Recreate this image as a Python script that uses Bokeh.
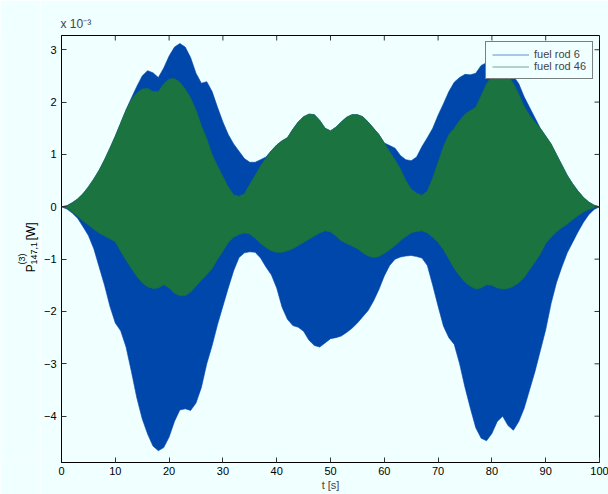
import math
from bokeh.plotting import figure
from bokeh.layouts import row
from bokeh.models import Range1d, FixedTicker, Legend, LegendItem
from bokeh.core.properties import value
from bokeh.embed import file_html
from bokeh.resources import INLINE

# ---- data (power envelopes, units of 10^-3 W) ----
t_s = list(range(0, 101))

rod6_upper = [0, 0.02, 0.08, 0.15, 0.25, 0.38, 0.53, 0.7, 0.9, 1.12, 1.35,
              1.6, 1.85, 2.08, 2.3, 2.5, 2.6, 2.56, 2.47, 2.65, 2.88,
              3.05, 3.12, 3.05, 2.85, 2.55, 2.36, 2.39, 2.2, 1.9, 1.62,
              1.38, 1.2, 1.06, 0.92, 0.85, 0.85, 0.9, 0.95, 1.07, 1.18,
              1.26, 1.32, 1.48, 1.62, 1.72, 1.77, 1.76, 1.65, 1.5, 1.45,
              1.52, 1.62, 1.71, 1.76, 1.76, 1.72, 1.62, 1.5, 1.38, 1.22,
              1.17, 1.12, 0.98, 0.9, 0.88, 0.95, 1.15, 1.32, 1.5, 1.75,
              1.97, 2.2, 2.38, 2.47, 2.53, 2.52, 2.55, 2.7, 2.75, 2.78,
              2.72, 2.62, 2.55, 2.5, 2.35, 2.1, 1.9, 1.7, 1.5, 1.35,
              1.2, 1.0, 0.8, 0.6, 0.44, 0.3, 0.18, 0.09, 0.03, 0]

rod6_lower = [0, -0.04, -0.12, -0.22, -0.38, -0.55, -0.8, -1.15, -1.5, -1.9, -2.22,
              -2.37, -2.68, -3.15, -3.65, -4.05, -4.34, -4.57, -4.66, -4.6, -4.4,
              -4.1, -3.88, -3.86, -3.89, -3.75, -3.45, -3.0, -2.65, -2.25, -1.9,
              -1.55, -1.22, -0.97, -0.88, -0.86, -0.87, -0.98, -1.15, -1.3, -1.55,
              -1.92, -2.15, -2.27, -2.3, -2.38, -2.55, -2.65, -2.68, -2.6, -2.52,
              -2.5, -2.47, -2.4, -2.32, -2.22, -2.1, -1.98, -1.8, -1.58, -1.32,
              -1.12, -1.0, -0.96, -0.94, -0.93, -0.95, -0.98, -1.12, -1.5, -1.9,
              -2.28, -2.5, -2.63, -3.0, -3.45, -3.85, -4.22, -4.42, -4.47, -4.33,
              -4.1, -4.0, -4.18, -4.27, -4.1, -3.85, -3.5, -3.15, -2.75, -2.35,
              -1.85, -1.45, -1.15, -0.88, -0.68, -0.48, -0.3, -0.15, -0.05, 0]

rod46_upper = [0, 0.02, 0.07, 0.15, 0.25, 0.38, 0.53, 0.7, 0.9, 1.12, 1.35,
               1.6, 1.85, 2.05, 2.18, 2.25, 2.26, 2.2, 2.2, 2.35, 2.44,
               2.45, 2.38, 2.25, 2.08, 1.85, 1.55, 1.3, 1.0, 0.78, 0.58,
               0.38, 0.23, 0.2, 0.25, 0.43, 0.6, 0.78, 0.93, 1.07, 1.18,
               1.26, 1.32, 1.48, 1.62, 1.72, 1.77, 1.76, 1.65, 1.5, 1.45,
               1.52, 1.62, 1.71, 1.76, 1.76, 1.72, 1.62, 1.5, 1.38, 1.22,
               1.05, 0.9, 0.72, 0.5, 0.34, 0.26, 0.22, 0.3, 0.55, 0.85,
               1.15, 1.38, 1.5, 1.65, 1.77, 1.84, 1.9, 2.12, 2.35, 2.5,
               2.56, 2.57, 2.5, 2.36, 2.15, 1.92, 1.75, 1.62, 1.5, 1.35,
               1.2, 1.0, 0.8, 0.6, 0.44, 0.3, 0.18, 0.09, 0.03, 0]

rod46_lower = [0, -0.03, -0.1, -0.18, -0.27, -0.35, -0.43, -0.5, -0.56, -0.61, -0.67,
               -0.85, -1.02, -1.18, -1.33, -1.45, -1.53, -1.56, -1.55, -1.49, -1.55,
               -1.65, -1.7, -1.7, -1.63, -1.52, -1.4, -1.3, -1.18, -1.0, -0.85,
               -0.68, -0.58, -0.53, -0.5, -0.52, -0.6, -0.7, -0.78, -0.84, -0.87,
               -0.87, -0.84, -0.8, -0.74, -0.68, -0.62, -0.56, -0.5, -0.46, -0.48,
               -0.56, -0.65, -0.7, -0.75, -0.8, -0.88, -0.94, -0.97, -0.95, -0.89,
               -0.82, -0.74, -0.65, -0.57, -0.5, -0.47, -0.46, -0.5, -0.58, -0.68,
               -0.82, -1.0, -1.18, -1.32, -1.44, -1.52, -1.57, -1.55, -1.49, -1.5,
               -1.55, -1.57, -1.56, -1.52, -1.45, -1.35, -1.2, -1.06, -0.9, -0.7,
               -0.58, -0.48, -0.4, -0.33, -0.25, -0.17, -0.1, -0.05, -0.02, 0]

series_names = ["fuel rod 6", "fuel rod 46"]
x_ticks = [0, 10, 20, 30, 40, 50, 60, 70, 80, 90, 100]
x_tick_labels = ["0", "10", "20", "30", "40", "50", "60", "70", "80", "90", "100"]
y_ticks = [-4, -3, -2, -1, 0, 1, 2, 3]
y_tick_labels = ["\u22124", "\u22123", "\u22122", "\u22121", "0", "1", "2", "3"]
x_label = "t [s]"
exponent_label = "x 10\u207b\u00b3"
y_label_parts = ["P", "(3)", "147,1", "[W]"]

# ---- styling ----
BG = "#f0ffff"
BLUE = "#0047ab"
GREEN = "#1b733f"
FONT = "Liberation Sans"
X0, X1 = 0, 100
Y0, Y1 = -4.885, 3.272
TOTAL_H = 494
LEFT_W = 40
FRAME_W, FRAME_H = 538, 427

# ---- left strip with the rotated y-axis label ----
lf = figure(width=LEFT_W, height=TOTAL_H, output_backend="svg", toolbar_location=None,
            x_range=Range1d(0, LEFT_W), y_range=Range1d(0, TOTAL_H),
            x_axis_type=None, y_axis_type=None, min_border=0,
            background_fill_color=BG, border_fill_color=BG)
lf.grid.visible = False
lf.outline_line_color = None
# (x = baseline position, top = start of the text measured from the top of the page)
for txt, bx, top, size in ((y_label_parts[0], 30.0, 274, "12px"),
                           (y_label_parts[1], 21.5, 265, "9px"),
                           (y_label_parts[2], 33.5, 265, "9px"),
                           (y_label_parts[3], 30.0, 237, "12px")):
    lf.text(x=[bx], y=[TOTAL_H - top], text=[txt], angle=math.pi / 2,
            text_font=value(FONT), text_font_size=value(size), text_color="black",
            text_align="left", text_baseline="alphabetic")

# ---- main plot ----
p = figure(frame_width=FRAME_W, frame_height=FRAME_H, output_backend="svg", toolbar_location=None,
           x_range=Range1d(X0, X1), y_range=Range1d(Y0, Y1),
           min_border_left=59 - LEFT_W, min_border_right=11, min_border_top=35, min_border_bottom=32,
           background_fill_color=BG, border_fill_color=BG)
p.grid.visible = False
p.outline_line_color = "black"
p.outline_line_width = 1

# envelopes
p.varea(x=t_s, y1=rod6_lower, y2=rod6_upper, fill_color=BLUE)
l6 = p.line(x=t_s, y=rod6_upper, line_color=BLUE, line_alpha=0.6, line_width=1)
p.line(x=t_s, y=rod6_lower, line_color=BLUE, line_alpha=0.6, line_width=1)
p.varea(x=t_s, y1=rod46_lower, y2=rod46_upper, fill_color=GREEN)
l46 = p.line(x=t_s, y=rod46_upper, line_color=GREEN, line_alpha=0.6, line_width=1)
p.line(x=t_s, y=rod46_lower, line_color=GREEN, line_alpha=0.6, line_width=1)

# inward ticks on the top and right borders (box style)
TICK_X = 5 / FRAME_H * (Y1 - Y0)
TICK_Y = 5 / FRAME_W * (X1 - X0)
p.segment(x0=x_ticks, x1=x_ticks, y0=[Y1] * len(x_ticks), y1=[Y1 - TICK_X] * len(x_ticks),
          line_color="#333333", line_width=1)
p.segment(x0=[X1] * len(y_ticks), x1=[X1 - TICK_Y] * len(y_ticks), y0=y_ticks, y1=y_ticks,
          line_color="#333333", line_width=1)

# axes
for ax, ticks, labels in ((p.xaxis[0], x_ticks, x_tick_labels), (p.yaxis[0], y_ticks, y_tick_labels)):
    ax.ticker = FixedTicker(ticks=ticks)
    ax.major_label_overrides = {tv: lb for tv, lb in zip(ticks, labels)}
    ax.minor_tick_line_color = None
    ax.major_tick_in = 5
    ax.major_tick_out = 0
    ax.major_tick_line_color = "#333333"
    ax.axis_line_color = "black"
    ax.major_label_text_font = FONT
    ax.major_label_text_font_size = "11px"
    ax.major_label_text_color = "black"
p.xaxis[0].major_label_standoff = 4
p.yaxis[0].major_label_standoff = 5
p.xaxis[0].axis_label = x_label
p.xaxis[0].axis_label_text_font = FONT
p.xaxis[0].axis_label_text_font_size = "11px"
p.xaxis[0].axis_label_text_font_style = "normal"
p.xaxis[0].axis_label_standoff = 1

# exponent as title
p.title.text = exponent_label
p.title.text_font = FONT
p.title.text_font_size = "12px"
p.title.text_font_style = "normal"
p.title.align = "left"
p.title.offset = -1

legend = Legend(items=[LegendItem(label=series_names[0], renderers=[l6]),
                       LegendItem(label=series_names[1], renderers=[l46])],
                location="top_right")
legend.margin = 6
legend.padding = 6
legend.spacing = 0
legend.glyph_width = 37
legend.glyph_height = 11
legend.label_height = 11
legend.label_standoff = 5
legend.label_text_font = FONT
legend.label_text_font_size = "11px"
legend.border_line_color = "black"
legend.border_line_width = 1
legend.background_fill_color = BG
legend.background_fill_alpha = 1
p.add_layout(legend)

open("out.html", "w").write(file_html(row(lf, p), INLINE))
